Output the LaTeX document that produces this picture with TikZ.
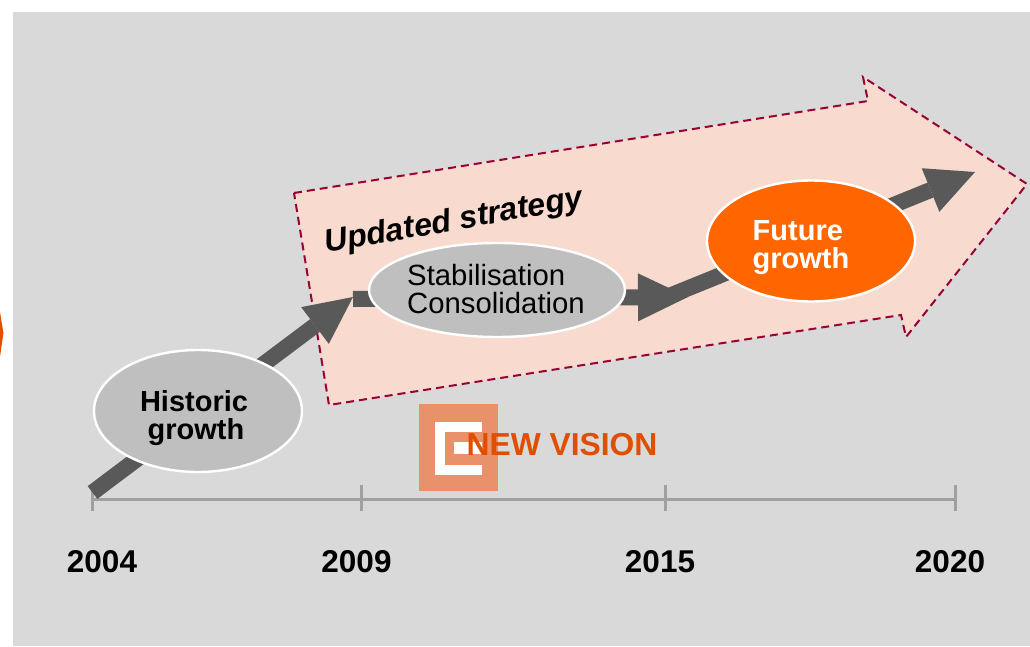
\documentclass[tikz,border=0pt]{standalone}
\usepackage{fontspec}
\setmainfont{Liberation Sans}
\usetikzlibrary{arrows.meta,shapes.geometric}
\definecolor{bgc}{HTML}{D9D9D9}
\definecolor{peach}{HTML}{F8DBCE}
\definecolor{dashc}{HTML}{990033}
\definecolor{darkg}{HTML}{595959}
\definecolor{ellg}{HTML}{BFBFBF}
\definecolor{orng}{HTML}{FF6600}
\definecolor{rust}{HTML}{E04F00}
\definecolor{logoc}{HTML}{E8916A}
\definecolor{axisc}{HTML}{A0A0A0}
\tikzset{
  x=1pt,y=-1pt,
  bubble/.style={ellipse,draw=white,line width=2.4pt,inner sep=0pt,minimum width=#1},
  bigtext/.style={font=\fontsize{29}{28}\selectfont\bfseries,align=left,inner sep=0pt},
  year/.style={font=\fontsize{31.5}{31}\selectfont\bfseries,inner sep=0pt,anchor=base},
  axisline/.style={draw=axisc,line width=3pt},
  growth/.style={draw=darkg,line width=#1},
}
\begin{document}
\begin{tikzpicture}
\useasboundingbox (0,0) rectangle (1030,647);
\fill[white] (0,0) rectangle (1030,647);
\fill[bgc] (13,12) rectangle (1030,646);
\fill[rust] (0,312) -- (3.4,333) -- (0,357) -- cycle;
% big arrow
\draw[fill=peach,draw=dashc,line width=2pt,dash pattern=on 8pt off 5pt]
  (294,193) -- (868,101) -- (863,77) -- (1027,184) -- (906,337) -- (901,315) -- (329,405) -- cycle;
% axis
\coordinate (t0) at (92,499);
\coordinate (t1) at (361,499);
\coordinate (t2) at (665,499);
\coordinate (t3) at (955,499);
\draw[axisline] (t0) -- (t3);
\foreach \p in {t0,t1,t2,t3} \draw[axisline] ([yshift=-12pt]\p) -- ([yshift=14pt]\p);
% growth arrows
\coordinate (a0) at (92.5,492.5);
\coordinate (a1) at (353,297);
\coordinate (b0) at (353,299);
\coordinate (b1) at (688,297);
\coordinate (c0) at (669,296);
\coordinate (c1) at (975,172);
\draw[growth=16pt,-{Triangle[length=47.5pt,width=46pt,line width=0pt]}] (a0) -- (a1);
\draw[growth=16pt,-{Triangle[length=50pt,width=48pt,line width=0pt]}] (b0) -- (b1);
\draw[growth=16pt,-{Triangle[length=48pt,width=47pt,line width=0pt]}] (c0) -- (c1);
% bubbles
\node[bubble=208pt,minimum height=122pt,fill=ellg] (hist) at (198,411) {};
\node[bubble=256pt,minimum height=94pt,fill=ellg] (stab) at (497,290) {};
\node[bubble=208pt,minimum height=121pt,fill=orng] (fut) at (811,241) {};
\node[bigtext,align=center,text=black] (histt) at (194,418) {Historic\\\hspace*{4pt}growth};
\node[font=\fontsize{29.3}{28}\selectfont,align=left,inner sep=0pt] (stabt) at (496,289) {Stabilisation\\Consolidation};
\node[bigtext,text=white] (futt) at (801,248) {Future\\growth};
\node[font=\fontsize{32}{32}\selectfont\bfseries\itshape,rotate=10,inner sep=0pt] (upd) at (454,222) {Updated strategy};
% logo
\fill[logoc] (419,404) rectangle (498,491);
\fill[white] (435,422) rectangle (482,475);
\fill[logoc] (445,432) rectangle (482,465);
\fill[white] (454,442) rectangle (482,454);
\node[font=\fontsize{31.8}{31}\selectfont\bfseries,text=rust,inner sep=0pt] (nv) at (562,445) {NEW VISION};
% years
\node[year] (y0) at (102,572) {2004};
\node[year] (y1) at (356.5,572) {2009};
\node[year] (y2) at (660,572) {2015};
\node[year] (y3) at (950,572) {2020};
\end{tikzpicture}
\end{document}
